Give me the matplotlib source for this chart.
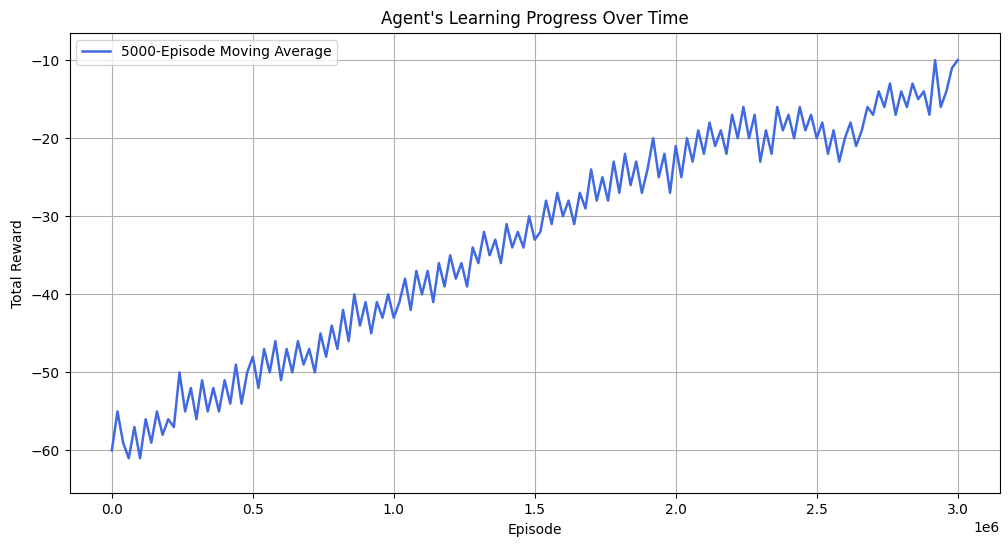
import numpy as np
import matplotlib
matplotlib.use("Agg")
import matplotlib.pyplot as plt

episodes_m = np.round(np.arange(0, 3.0001, 0.02), 2)
rewards = [-60,-55,-59,-61,-57,-61,-56,-59,-55,-58,-56,-57,-50,-55,-52,-56,-51,-55,-52,-55,
 -51,-54,-49,-54,-50,-48,-52,-47,-50,-46,-51,-47,-50,-46,-49,-47,-50,-45,-48,-44,
 -47,-42,-46,-40,-44,-41,-45,-41,-43,-40,-43,-41,-38,-42,-37,-40,-37,-41,-36,-39,
 -35,-38,-36,-39,-34,-36,-32,-35,-33,-36,-31,-34,-32,-34,-30,-33,-32,-28,-31,-27,
 -30,-28,-31,-27,-29,-24,-28,-25,-28,-23,-27,-22,-26,-23,-27,-24,-20,-25,-22,-27,
 -21,-25,-20,-23,-19,-22,-18,-21,-19,-22,-17,-20,-16,-20,-17,-23,-19,-22,-16,-19,
 -17,-20,-16,-19,-17,-20,-18,-22,-19,-23,-20,-18,-21,-19,-16,-17,-14,-16,-13,-17,
 -14,-16,-13,-15,-14,-17,-10,-16,-14,-11,-10]
episodes = episodes_m * 1e6

fig = plt.figure(figsize=(10.08, 5.47), dpi=100)
ax = fig.add_axes([0.069, 0.098, 0.923, 0.842])
ax.plot(episodes, rewards, color='royalblue', lw=1.8, label='5000-Episode Moving Average')
ax.set_ylim(-65.5, -6.5)
ax.set_title("Agent's Learning Progress Over Time")
ax.set_xlabel('Episode')
ax.set_ylabel('Total Reward')
ax.grid(True)
ax.legend(loc='upper left')
fig.savefig('out.png', dpi=100)
